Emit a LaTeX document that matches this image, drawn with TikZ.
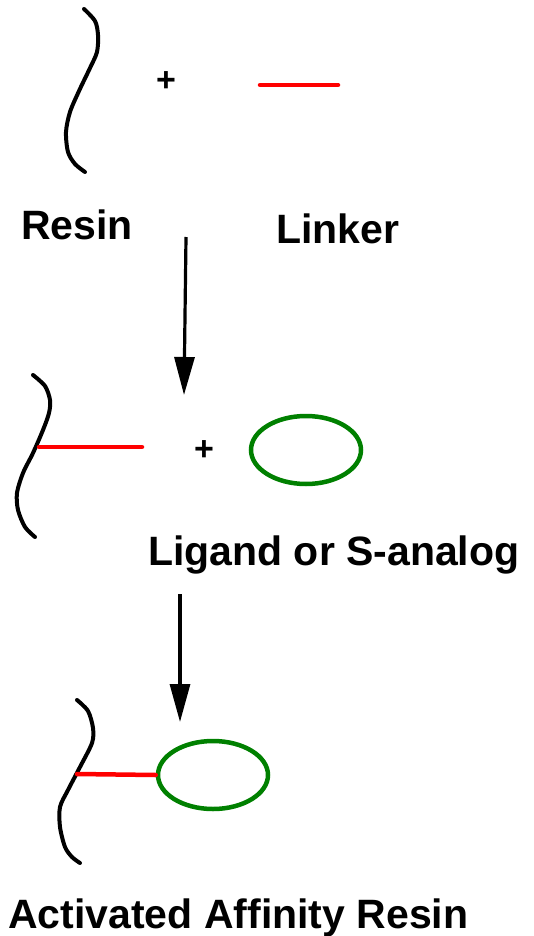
\documentclass[tikz,border=0pt]{standalone}
\usepackage{fontspec}
\setmainfont{Liberation Sans}
\usetikzlibrary{arrows.meta,shapes.geometric}

\definecolor{linkred}{RGB}{255,0,0}
\definecolor{ligandgreen}{RGB}{0,128,0}

\tikzset{
  resin/.style={line width=4pt, line join=round, line cap=round},
  linker/.style={linkred, line width=4.5pt, line cap=round},
  ligand/.style={draw=ligandgreen, line width=4.5pt, ellipse, inner sep=0pt,
    minimum width=110pt, minimum height=68pt},
  lbl/.style={anchor=base west, inner sep=0pt,
    font=\bfseries\fontsize{41}{48}\selectfont},
  plus/.style={inner sep=0pt, font=\bfseries\fontsize{34}{38}\selectfont},
  reaction/.style={line width=3.2pt, -{Triangle[length=38pt,width=20pt]}}
}

\begin{document}
\begin{tikzpicture}[x=1pt,y=-1pt]
  \useasboundingbox (0,0) rectangle (534,936);

  % resin + linker
  \draw[resin] plot[smooth] coordinates {(84,9) (95,21) (98,35) (97,52) (90,68)
    (79,91) (70,112) (66,132) (68,152) (75,164) (85,172)};
  \node[plus] (p1) at (166,82) {+};
  \draw[linker] (260,85) -- (338,85);
  \node[lbl] (resin) at (21,239) {Resin};
  \node[lbl] (linker) at (276,243) {Linker};

  \coordinate (a1s) at (186,237);
  \coordinate (a1e) at (184,395);
  \draw[reaction] (a1s) -- (a1e);

  % resin with linker + ligand
  \draw[resin] plot[smooth] coordinates {(33,375) (45,386) (50,400) (49,413)
    (43,430) (33,453) (23,473) (17,493) (18,510) (25,527) (35,537)};
  \coordinate (r2) at (39,447);
  \draw[linker] (r2) -- (142,447);
  \node[plus] (p2) at (204,451) {+};
  \node[ligand] (lig) at (306,450) {};
  \node[lbl] (ligname) at (148,565) {Ligand or S-analog};

  \coordinate (a2s) at (180,594);
  \coordinate (a2e) at (180,722);
  \draw[reaction] (a2s) -- (a2e);

  % coupled product
  \draw[resin] plot[smooth] coordinates {(77,700) (88,711) (93,728) (92,743)
    (80,767) (68,790) (60,807) (60,827) (65,847) (72,857) (80,863)};
  \coordinate (r3) at (77,774);
  \node[ligand] (lig2) at (213,775) {};
  \draw[linker] (r3) -- (lig2.west);
  \node[lbl] (product) at (8,928) {Activated Affinity Resin};
\end{tikzpicture}
\end{document}
